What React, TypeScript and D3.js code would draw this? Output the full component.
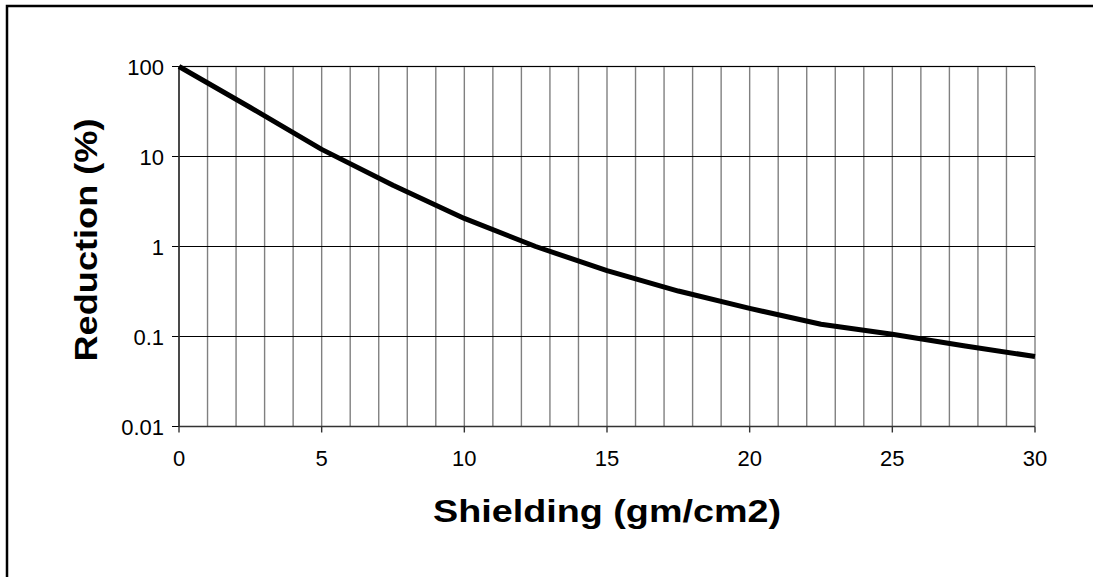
import React from "react";
import * as d3 from "d3";

const shielding = [0, 2.5, 5, 7.5, 10, 12.5, 15, 17.5, 20, 22.5, 25, 27.5, 30];
const reduction = [100, 35, 12, 4.8, 2.05, 1.0, 0.54, 0.32, 0.205, 0.137, 0.106, 0.079, 0.06];
const xTicks = [0, 5, 10, 15, 20, 25, 30];
const xGrid = d3.range(0, 31, 1);
const yTicks = [100, 10, 1, 0.1, 0.01];
const yTickLabels = ["100", "10", "1", "0.1", "0.01"];

const W = 1093;
const H = 577;
const left = 179;
const right = 1035;
const top = 66.5;
const bottom = 426.5;
const font = "'Liberation Sans', Arial, Helvetica, sans-serif";

export default function App() {
  const x = d3.scaleLinear().domain([0, 30]).range([left, right]);
  const y = d3.scaleLog().domain([0.01, 100]).range([bottom, top]);
  const line = d3
    .line<number>()
    .x((_, i) => x(shielding[i]))
    .y((d) => y(d));
  return (
    <svg
      width={W}
      height={H}
      style={{ position: "absolute", left: 0, top: 0, display: "block", background: "#fff" }}
    >
      <rect x={7} y={6} width={1200} height={700} fill="#fff" stroke="#000" strokeWidth={2.5} />
      {xGrid.map((g) => (
        <line key={"vg" + g} x1={x(g)} x2={x(g)} y1={top} y2={bottom} stroke="#808080" strokeWidth={1.4} />
      ))}
      <line x1={left} x2={right} y1={top} y2={top} stroke="#9a9a9a" strokeWidth={1.4} />
      {yTicks.map((t) => (
        <line key={"hg" + t} x1={left - 7} x2={right} y1={y(t)} y2={y(t)} stroke="#000" strokeWidth={1.2} />
      ))}
      <line x1={left} x2={left} y1={top} y2={bottom} stroke="#333" strokeWidth={1.6} />
      <line x1={left} x2={right} y1={bottom} y2={bottom} stroke="#333" strokeWidth={1.6} />
      {xTicks.map((t) => (
        <line key={"xt" + t} x1={x(t)} x2={x(t)} y1={bottom} y2={bottom + 6} stroke="#333" strokeWidth={1.4} />
      ))}
      {yTicks.map((t, i) => (
        <text
          key={"yl" + t}
          x={left - 15}
          y={y(t) + 8}
          textAnchor="end"
          fontFamily={font}
          fontSize={22}
          fill="#000"
        >
          {yTickLabels[i]}
        </text>
      ))}
      {xTicks.map((t) => (
        <text
          key={"xl" + t}
          x={x(t)}
          y={bottom + 39}
          textAnchor="middle"
          fontFamily={font}
          fontSize={22}
          fill="#000"
        >
          {t}
        </text>
      ))}
      <path d={line(reduction) || ""} fill="none" stroke="#000" strokeWidth={5} strokeLinejoin="round" />
      <text
        x={(left + right) / 2}
        y={522}
        textAnchor="middle"
        fontFamily={font}
        fontWeight="bold"
        fontSize={31}
        textLength={348}
        lengthAdjust="spacingAndGlyphs"
        fill="#000"
      >
        Shielding (gm/cm2)
      </text>
      <text
        transform={`translate(97, 240) rotate(-90)`}
        textAnchor="middle"
        fontFamily={font}
        fontWeight="bold"
        fontSize={31}
        textLength={243}
        lengthAdjust="spacingAndGlyphs"
        fill="#000"
      >
        Reduction (%)
      </text>
    </svg>
  );
}
